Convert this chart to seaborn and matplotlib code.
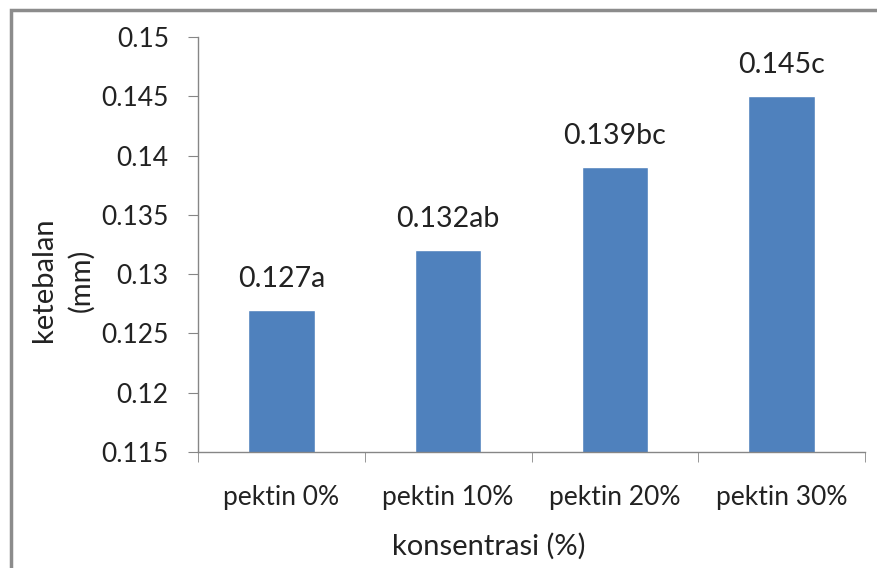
import numpy as np
import pandas as pd
import matplotlib
matplotlib.use("Agg")
import matplotlib.pyplot as plt
import seaborn as sns
from matplotlib.patches import Rectangle
from matplotlib.ticker import MultipleLocator, FixedLocator

categories = ["pektin 0%", "pektin 10%", "pektin 20%", "pektin 30%"]
ketebalan = [0.127, 0.132, 0.139, 0.145]
labels = ["0.127a", "0.132ab", "0.139bc", "0.145c"]

sns.set_style("white")
plt.rcParams["font.family"] = ["Lato", "DejaVu Sans"]

df = pd.DataFrame({"konsentrasi": categories, "ketebalan": ketebalan})

fig = plt.figure(figsize=(8.77, 5.68), dpi=100)
ax = fig.add_axes([198 / 877, 1 - 452 / 568, 667 / 877, 415 / 568])

sns.barplot(data=df, x="konsentrasi", y="ketebalan", color="#4F81BD",
            saturation=1, width=0.4, ax=ax)

ax.set_ylim(0.115, 0.15)
ax.set_xlim(-0.5, 3.5)
ax.yaxis.set_major_locator(MultipleLocator(0.005))
ax.set_yticklabels([f"{v:g}" for v in ax.get_yticks()])

axis_col = "#868686"
text_col = "#222222"
for s in ["top", "right"]:
    ax.spines[s].set_visible(False)
for s in ["left", "bottom"]:
    ax.spines[s].set_color(axis_col)
    ax.spines[s].set_linewidth(1)

# ticks sit between the categories, like Excel
ax.xaxis.set_minor_locator(FixedLocator([-0.5, 0.5, 1.5, 2.5, 3.5]))
ax.tick_params(axis="x", which="major", length=0, pad=24)
ax.tick_params(axis="x", which="minor", length=7, color=axis_col, direction="out", bottom=True)
ax.tick_params(axis="y", which="major", length=7, color=axis_col, direction="out",
               left=True, pad=14)
plt.setp(ax.get_xticklabels(), fontsize=19, color=text_col)
plt.setp(ax.get_yticklabels(), fontsize=19, color=text_col)

ax.set_xlabel("konsentrasi (%)", fontsize=21, color=text_col)
ax.xaxis.label.set_va("center")
ax.xaxis.set_label_coords((489 - 198) / 667, (452 - 546) / 415)

ax.set_ylabel("ketebalan\n(mm)", fontsize=21, color=text_col, linespacing=1.5)
ax.yaxis.label.set_va("center")
ax.yaxis.set_label_coords((63 - 198) / 667, (452 - 280) / 415)

ax.bar_label(ax.containers[0], labels=labels, padding=13, fontsize=20.5, color=text_col)

fig.add_artist(Rectangle((11 / 877, -0.5), 2, 1.5 - 10 / 568, transform=fig.transFigure,
                         fill=False, edgecolor="#8c8c8c", linewidth=2.5))

fig.savefig("out.png", dpi=100)
